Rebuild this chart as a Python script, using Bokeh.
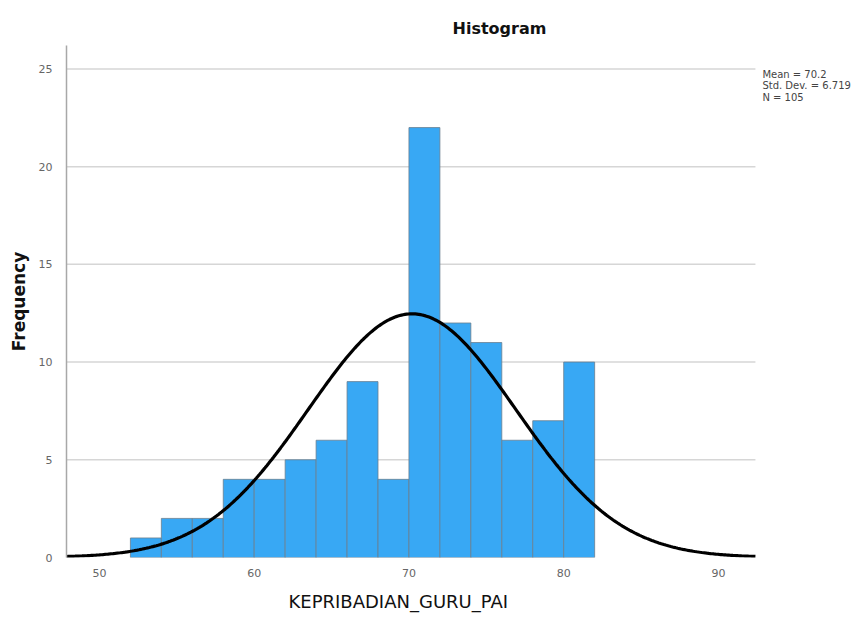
import numpy as np
from bokeh.plotting import figure
from bokeh.models import Range1d, FixedTicker, Label, Title
from bokeh.embed import file_html
from bokeh.resources import INLINE

bin_left = [52, 54, 56, 58, 60, 62, 64, 66, 68, 70, 72, 74, 76, 78, 80]
bin_width = 2
counts = [1, 2, 2, 4, 4, 5, 6, 9, 4, 22, 12, 11, 6, 7, 10]
mean = 70.2
std_dev = 6.719
n_total = 105
x_ticks = [50, 60, 70, 80, 90]
y_ticks = [0, 5, 10, 15, 20, 25]

FONT = "DejaVu Sans"
X0, X1 = 47.87, 92.39      # visible plotting area
XR = 99.18                 # frame extends right to hold the statistics text

p = figure(width=862, height=621, output_backend="svg", toolbar_location=None,
           x_range=Range1d(X0, XR), y_range=Range1d(0, 26.2),
           min_border_left=66, min_border_right=2, min_border_top=45, min_border_bottom=64)
p.outline_line_color = None
p.background_fill_color = "white"
p.border_fill_color = "white"

p.title.text = "Histogram"
p.title.align = "left"
p.title.offset = 386
p.title.standoff = 15
p.title.text_font = FONT
p.title.text_font_size = "16px"
p.title.text_font_style = "bold"
p.title.text_color = "#111111"

# grid lines (only across the plotting area)
p.xgrid.grid_line_color = None
p.ygrid.grid_line_color = None
gy = [t for t in y_ticks if t > 0]
p.segment(x0=[X0] * len(gy), x1=[X1] * len(gy), y0=gy, y1=gy,
          line_color="#d6d6d6", line_width=1.5)

# bars
lefts = np.array(bin_left, dtype=float)
p.quad(left=lefts, right=lefts + bin_width, bottom=0, top=counts,
       fill_color="#38A8F4", line_color="#6a7f8f", line_width=0.8)

# normal curve from the stated parameters
xs = np.linspace(X0, X1, 400)
ys = n_total * bin_width / (std_dev * np.sqrt(2 * np.pi)) * np.exp(-0.5 * ((xs - mean) / std_dev) ** 2)
p.line(xs, ys, line_color="black", line_width=3.2)

# axes
p.xaxis.ticker = FixedTicker(ticks=x_ticks)
p.yaxis.ticker = FixedTicker(ticks=y_ticks)
for ax in (p.xaxis, p.yaxis):
    ax.major_tick_line_color = None
    ax.minor_tick_line_color = None
    ax.major_label_text_font = FONT
    ax.major_label_text_font_size = "11px"
    ax.major_label_text_color = "#666666"
    ax.axis_label_text_font = FONT
    ax.axis_label_text_font_size = "17px"
    ax.axis_label_text_color = "#111111"
p.xaxis.axis_line_color = None
p.yaxis.axis_line_color = "#a8a8a8"
p.yaxis.axis_line_width = 1.5
p.xaxis.major_label_standoff = 5
p.yaxis.major_label_standoff = 8
p.yaxis.axis_label = "Frequency"
p.yaxis.axis_label_text_font_style = "bold"
p.yaxis.axis_label_standoff = 7

# x-axis title, centred under the visible plotting area
p.add_layout(Title(text="KEPRIBADIAN_GURU_PAI", align="left", offset=222, standoff=19,
                   text_font=FONT, text_font_size="18px", text_font_style="normal",
                   text_color="#111111"), "below")

# stats
stats = [f"Mean = {mean}", f"Std. Dev. = {std_dev}", f"N = {n_total}"]
for i, s in enumerate(stats):
    p.add_layout(Label(x=92.84, y=24.74 - i * 0.61, text=s,
                       text_font=FONT, text_font_size="10px",
                       text_align="left", text_baseline="middle", text_color="#444444"))

open("out.html", "w").write(file_html(p, INLINE))
